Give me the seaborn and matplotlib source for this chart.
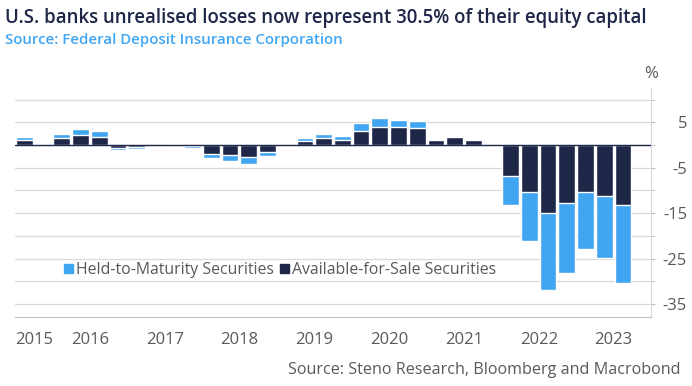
import numpy as np
import pandas as pd
import matplotlib
matplotlib.use("Agg")
import matplotlib.pyplot as plt
from matplotlib.patches import Patch
import seaborn as sns

nan = np.nan
quarters = [f"{y}Q{q}" for y in range(2015, 2024) for q in range(1, 5)][2:]
years = list(range(2015, 2024))
# percent of equity capital
afs = [1.2, 0.2,
       1.5, 2.2, 1.9, -0.6,
       -0.45, 0.05, 0.1, -0.3,
       -1.9, -2.2, -2.65, -1.5,
       -0.2, 1.0, 1.5, 1.2,
       3.2, 4.1, 3.9, 3.7,
       1.2, 1.75, 1.1, -0.1,
       -6.8, -10.4, -15.0, -12.65,
       -10.3, -11.2, -13.2, nan]
htm = [0.6, 0.1,
       0.9, 1.3, 1.2, -0.5,
       -0.3, 0.0, 0.1, -0.3,
       -1.0, -1.2, -1.6, -0.9,
       0.0, 0.6, 1.0, 0.8,
       1.65, 1.85, 1.7, 1.6,
       0.0, 0.35, 0.05, -0.4,
       -6.3, -10.8, -17.0, -15.45,
       -12.6, -13.7, -17.3, nan]
major_y = [5, -5, -15, -25, -35]
minor_y = [10, 0, -10, -20, -30]

df = pd.DataFrame({"quarter": quarters, "afs": afs, "htm": htm})
df["total"] = df["afs"] + df["htm"]

navy = "#1f2749"
blue = "#40a6f2"
grey = "#595959"

sns.set_style("white")
plt.rcParams["font.family"] = ["Open Sans", "DejaVu Sans"]

fig = plt.figure(figsize=(6.92, 3.86), dpi=100)
ax = fig.add_axes([15 / 692, 1 - 317 / 386, 636 / 692, 229 / 386])

sns.barplot(data=df, x="quarter", y="total", order=quarters, color=blue,
            saturation=1, width=0.89, ax=ax, zorder=2)
sns.barplot(data=df, x="quarter", y="afs", order=quarters, color=navy,
            saturation=1, width=0.89, ax=ax, zorder=3)

ax.set_xlim(-0.5, len(quarters) - 0.5)
ax.set_ylim(-37.9, 12.6)
ax.set_xlabel("")
ax.set_ylabel("")

# y axis on the right
ax.yaxis.tick_right()
ax.set_yticks(major_y)
ax.set_yticklabels([str(v) for v in major_y])
ax.set_yticks(minor_y, minor=True)
for t in ax.get_yticklabels():
    t.set_horizontalalignment("right")
ax.tick_params(axis="y", which="both", direction="out", length=3, color="#bfbfbf",
               pad=23, labelsize=12, labelcolor=grey)
ax.grid(True, axis="y", which="both", color="#d9d9d9", linewidth=0.9, zorder=0)
ax.axhline(0, color=navy, linewidth=1, zorder=4)

# year boundaries as ticks, labels in between
bounds = [1.5 + 4 * i for i in range(len(years) - 1)] + [len(quarters) - 0.5]
ax.set_xticks(bounds)
ax.set_xticklabels([""] * len(bounds))
ax.tick_params(axis="x", direction="out", length=5, color="#7f7f7f", width=1)
centers = [0.5] + [3.5 + 4 * i for i in range(len(years) - 1)]
for c, y in zip(centers, years):
    ax.text(c, -0.1, str(y), transform=ax.get_xaxis_transform(), ha="center",
            va="center", fontsize=12, color=grey)

for s in ["left", "top"]:
    ax.spines[s].set_visible(False)
ax.spines["right"].set_color("#d9d9d9")
ax.spines["bottom"].set_color("#bfbfbf")

handles = [Patch(color=blue, label="Held-to-Maturity Securities"),
           Patch(color=navy, label="Available-for-Sale Securities")]
ax.legend(handles=handles, loc="center left", bbox_to_anchor=(0.055, 0.205), ncol=2,
          frameon=False, fontsize=11.4, handlelength=0.55, handleheight=0.55,
          handletextpad=0.2, columnspacing=0.4, labelcolor=grey)

fig.text(651 / 692, 1 - 74 / 386, "%", ha="center", va="center", fontsize=12, color=grey)
fig.text(5 / 692, 1 - 18 / 386,
         "U.S. banks unrealised losses now represent 30.5% of their equity capital",
         ha="left", va="center", fontsize=13.4, fontweight="semibold", color=navy)
fig.text(5 / 692, 1 - 40 / 386, "Source: Federal Deposit Insurance Corporation",
         ha="left", va="center", fontsize=10.8, fontweight="semibold", color=blue)
fig.text(681 / 692, 1 - 370 / 386, "Source: Steno Research, Bloomberg and Macrobond",
         ha="right", va="center", fontsize=11.6, color=grey)

fig.savefig("out.png", dpi=100)
